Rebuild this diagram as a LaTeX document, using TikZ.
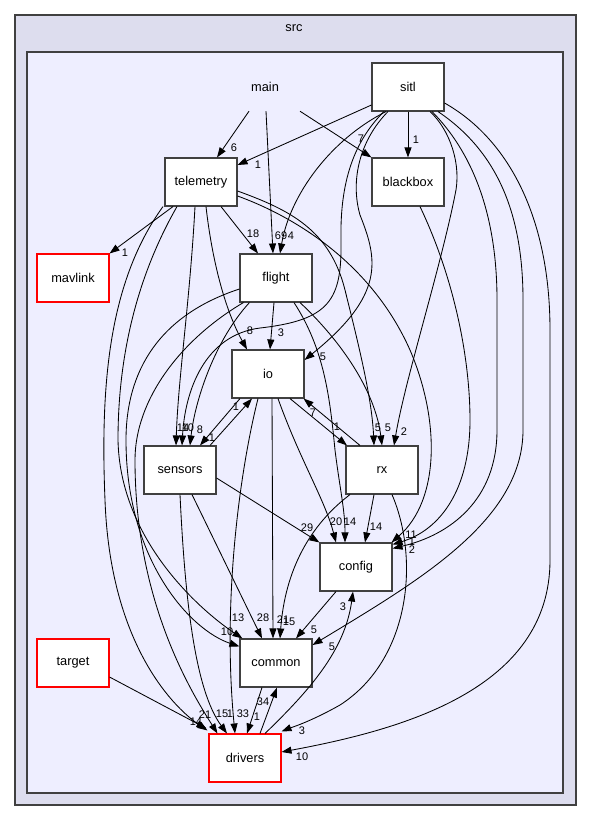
\documentclass[tikz,border=0pt]{standalone}
\usepackage{fontspec}
\setmainfont{Liberation Sans}
\usetikzlibrary{arrows.meta}
\definecolor{outerfill}{HTML}{DDDDEE}
\definecolor{innerfill}{HTML}{EEEEFF}
\definecolor{frame}{HTML}{404040}
\tikzset{
  box/.style={draw=frame, line width=1.1pt, fill=white, minimum width=72pt, minimum height=48pt, inner sep=0pt, font=\fontsize{12.8}{14}\selectfont},
  redbox/.style={box, draw=red, line width=1.05pt},
  plainlbl/.style={minimum width=72pt, minimum height=48pt, inner sep=0pt, font=\fontsize{12.8}{14}\selectfont},
  e/.style={-{Triangle[length=10pt,width=7pt]}, line width=0.85pt, black},
  lbl/.style={font=\fontsize{11}{12}\selectfont, inner sep=0pt}
}
\begin{document}
\begin{tikzpicture}[x=1pt,y=-1pt]
\useasboundingbox (0,0) rectangle (589,820);
\fill[white] (0,0) rectangle (589,820);
% clusters
\path[draw=frame, line width=1.1pt, fill=outerfill] (15,15) rectangle (576,805);
\node[font=\fontsize{12.8}{14}\selectfont] (srclbl) at (294,28) {src};
\path[draw=frame, line width=1.1pt, fill=innerfill] (27,52) rectangle (563,793);

% nodes
\node[plainlbl] (main) at (265,87) {main};
\node[box] (sitl) at (408,87) {sitl};
\node[box] (blackbox) at (408,182) {blackbox};
\node[box] (telemetry) at (201,182) {telemetry};
\node[redbox] (mavlink) at (73,278) {mavlink};
\node[box] (flight) at (276,278) {flight};
\node[box] (io) at (268,374) {io};
\node[box] (sensors) at (180,470) {sensors};
\node[box] (rx) at (382,470) {rx};
\node[box] (config) at (356,567) {config};
\node[box] (common) at (276,663) {common};
\node[redbox] (drivers) at (245,758) {drivers};
\node[redbox] (target) at (73,663) {target};

% main
\draw[e] ([xshift=-16pt]main.south) -- ([xshift=16pt]telemetry.north) node[lbl,at={(234,148)}]{6};
\draw[e] ([xshift=1pt]main.south) -- ([xshift=-3pt]flight.north) node[lbl,at={(281,236)}]{69};
\draw[e] ([xshift=35pt]main.south) -- (blackbox.north west) node[lbl,at={(361,139)}]{7};

% sitl
\draw[e] ([yshift=-18pt]sitl.west) -- ([yshift=17pt]telemetry.east) node[lbl,at={(258,165)}]{1};
\draw[e] (sitl.south) -- (blackbox.north) node[lbl,at={(416,140)}]{1};
\draw[e] ([xshift=-22pt]sitl.south) .. controls (330,140) and (290,195) .. ([xshift=4pt]flight.north) node[lbl,at={(291,236)}]{4};
\draw[e] ([xshift=-20pt]sitl.south) .. controls (360,140) and (350,180) .. (360,215) .. controls (378,260) and (385,295) .. ([yshift=14pt]io.east) node[lbl,at={(323,357)}]{5};
\draw[e] ([xshift=-24pt]sitl.south) .. controls (350,145) and (340,190) .. (341,240) .. controls (342,300) and (330,320) .. (260,328) .. controls (205,335) and (185,390) .. ([xshift=2pt]sensors.north) node[lbl,at={(188,428)}]{10};
\draw[e] ([xshift=22pt]sitl.south) .. controls (450,130) and (462,165) .. (455,195) .. controls (440,270) and (405,380) .. ([xshift=12pt]rx.north) node[lbl,at={(404,432)}]{2};
\draw[e] ([xshift=24pt]sitl.south) .. controls (470,150) and (497,210) .. (497,300) -- (497,430) .. controls (497,500) and (450,535) .. ([yshift=-6pt]config.north east) node[lbl,at={(412,550)}]{2};
\draw[e] ([xshift=30pt]sitl.south) .. controls (495,150) and (523,210) .. (523,300) -- (523,430) .. controls (523,520) and (420,580) .. ([yshift=18pt]common.east) node[lbl,at={(332,647)}]{5};
\draw[e] ([yshift=-16pt]sitl.east) .. controls (510,140) and (550,220) .. (550,330) -- (550,560) .. controls (550,690) and (400,730) .. ([yshift=6pt]drivers.east) node[lbl,at={(302,757)}]{10};

% blackbox
\draw[e] ([xshift=12pt]blackbox.south) .. controls (455,280) and (470,360) .. (470,420) .. controls (470,490) and (440,530) .. ([yshift=-2pt]config.north east) node[lbl,at={(412,542)}]{1};

% telemetry
\draw[e] ([yshift=-14pt]telemetry.east) .. controls (290,215) and (370,260) .. (410,350) .. controls (440,420) and (440,500) .. ([xshift=-1pt]config.north east) node[lbl,at={(411,535)}]{11};
\draw[e] ([yshift=-9pt]telemetry.east) .. controls (290,210) and (330,230) .. (345,290) .. controls (360,350) and (372,400) .. ([xshift=-8pt]rx.north) node[lbl,at={(378,428)}]{5};
\draw[e] ([xshift=-28pt]telemetry.south) -- (mavlink.north east) node[lbl,at={(125,253)}]{1};
\draw[e] ([xshift=20pt]telemetry.south) -- ([xshift=-18pt]flight.north) node[lbl,at={(253,234)}]{18};
\draw[e] ([xshift=5pt]telemetry.south) .. controls (212,260) and (225,310) .. ([xshift=-21pt]io.north) node[lbl,at={(250,331)}]{8};
\draw[e] ([xshift=-6pt]telemetry.south) .. controls (190,300) and (178,380) .. ([xshift=-4pt]sensors.north) node[lbl,at={(183,428)}]{14};
\draw[e] ([xshift=-38pt]telemetry.south) .. controls (110,280) and (100,380) .. (105,500) .. controls (110,640) and (170,705) .. ([xshift=-1pt,yshift=3pt]drivers.north west) node[lbl,at={(205,715)}]{21};
\draw[e] ([xshift=-24pt]telemetry.south) .. controls (135,280) and (118,360) .. (118,440) .. controls (120,540) and (200,610) .. ([xshift=3pt]common.north west) node[lbl,at={(238,618)}]{13};

% flight
\draw[e] ([yshift=-11pt]flight.west) .. controls (160,315) and (126,370) .. (126,440) .. controls (126,560) and (190,630) .. ([yshift=-8pt]common.north west) node[lbl,at={(227,632)}]{10};
\draw[e] ([xshift=4pt]flight.south west) .. controls (180,340) and (135,400) .. (135,460) .. controls (135,600) and (190,690) .. ([xshift=9pt]drivers.north west) node[lbl,at={(222,714)}]{15};
\draw[e] ([xshift=10pt]flight.south west) .. controls (215,340) and (195,400) .. ([xshift=10pt]sensors.north) node[lbl,at={(200,430)}]{8};
\draw[e] ([xshift=-2pt]flight.south) -- ([xshift=2pt]io.north) node[lbl,at={(281,333)}]{3};
\draw[e] ([xshift=24pt]flight.south) .. controls (340,340) and (375,390) .. (rx.north) node[lbl,at={(388,428)}]{5};
\draw[e] ([xshift=18pt]flight.south) .. controls (325,350) and (330,400) .. (335,450) .. controls (340,490) and (345,510) .. ([xshift=-11pt]config.north) node[lbl,at={(350,522)}]{14};

% io
\draw[e] ([xshift=10pt]io.south) .. controls (300,460) and (325,500) .. ([xshift=-20pt]config.north) node[lbl,at={(336,522)}]{20};
\draw[e] ([xshift=4pt]io.south) -- ([xshift=-3pt]common.north) node[lbl,at={(283,620)}]{21};
\draw[e] ([xshift=-10pt]io.south) .. controls (240,470) and (222,600) .. ([xshift=-10pt]drivers.north) node[lbl,at={(243,714)}]{33};
\draw[e] ([xshift=-28pt]io.south) -- ([xshift=20pt]sensors.north) node[lbl,at={(212,438)}]{1};
\draw[e] ([xshift=30pt]sensors.north) -- ([xshift=-16pt]io.south) node[lbl,at={(236,407)}]{1};
\draw[e] ([xshift=22pt]io.south) -- ([xshift=-35pt]rx.north) node[lbl,at={(337,427)}]{1};
\draw[e] ([xshift=-22pt]rx.north) -- ([xshift=-1pt]io.south east) node[lbl,at={(313,413)}]{7};

% sensors
\draw[e] ([yshift=-8pt]sensors.east) -- (config.north west) node[lbl,at={(307,528)}]{29};
\draw[e] ([xshift=12pt]sensors.south) -- ([xshift=-14pt]common.north) node[lbl,at={(263,618)}]{28};
\draw[e] (sensors.south) .. controls (185,600) and (195,690) .. ([xshift=-18pt]drivers.north) node[lbl,at={(230,714)}]{1};

% rx
\draw[e] ([xshift=-8pt]rx.south) -- ([xshift=9pt]config.north) node[lbl,at={(376,527)}]{14};
\draw[e] ([xshift=-32pt]rx.south) .. controls (310,525) and (285,570) .. ([xshift=4pt]common.north) node[lbl,at={(289,622)}]{15};
\draw[e] ([xshift=10pt]rx.south) .. controls (420,560) and (410,660) .. (340,705) .. controls (310,722) and (290,728) .. ([yshift=2pt]drivers.north east) node[lbl,at={(302,731)}]{3};

% config, common, drivers, target
\draw[e] ([xshift=-20pt]config.south) -- ([xshift=20pt]common.north) node[lbl,at={(314,630)}]{5};
\draw[e] ([xshift=20pt]drivers.north) .. controls (310,690) and (345,650) .. ([xshift=-3pt]config.south) node[lbl,at={(343,607)}]{3};
\draw[e] ([xshift=-14pt]common.south) -- ([xshift=2pt]drivers.north) node[lbl,at={(257,717)}]{1};
\draw[e] ([xshift=15pt]drivers.north) -- ([xshift=1pt]common.south) node[lbl,at={(263,702)}]{34};
\draw[e] ([yshift=-14pt]target.east) -- ([xshift=-2pt,yshift=5pt]drivers.north west) node[lbl,at={(196,722)}]{14};
\end{tikzpicture}
\end{document}
